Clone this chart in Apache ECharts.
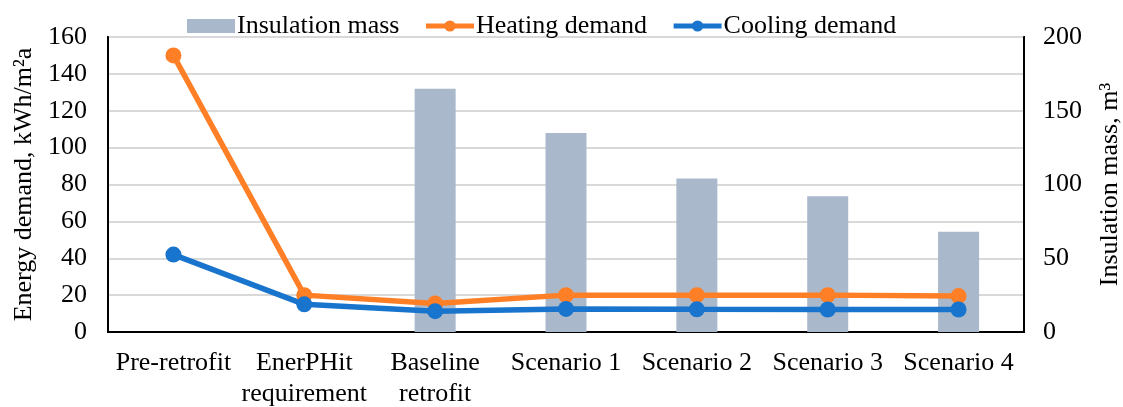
<!DOCTYPE html>
<html><head><meta charset="utf-8">
<script src="https://cdn.jsdelivr.net/npm/echarts@6/dist/echarts.min.js"></script>
<style>html,body{margin:0;padding:0;background:#fff}#c{width:1123px;height:407px}</style>
</head><body><div id="c"></div>
<script>
const categories = ['Pre-retrofit', 'EnerPHit\nrequirement', 'Baseline\nretrofit', 'Scenario 1', 'Scenario 2', 'Scenario 3', 'Scenario 4'];
const insulationMass = [null, null, 165, 135, 104, 92, 68];
const heatingDemand = [150, 20, 15.5, 20, 20, 20, 19.5];
const coolingDemand = [42, 15, 11.3, 12.5, 12.3, 12.2, 12.2];
const leftTicks = [0, 160, 20];
const rightTicks = [0, 200, 50];

const font = 'Liberation Serif';
const FS = 26;
const chart = echarts.init(document.getElementById('c'), null, {renderer: 'canvas'});
chart.setOption({
  animation: false,
  textStyle: {fontFamily: font, color: '#000'},
  grid: {left: 108, right: 99, top: 37, bottom: 75, show: true, borderColor: '#000', borderWidth: 2,
         backgroundColor: 'transparent', outerBoundsMode: 'none', containLabel: false},
  legend: {
    top: 8, left: 182, itemGap: 24, itemHeight: 14,
    textStyle: {fontFamily: font, fontSize: FS, color: '#000', padding: [0, 0, 0, -3]},
    data: [
      {name: 'Insulation mass', itemStyle: {color: '#A9B9CB'}, icon: 'rect', itemWidth: 52},
      {name: 'Heating demand', lineStyle: {width: 5}},
      {name: 'Cooling demand', lineStyle: {width: 5}}
    ],
    itemWidth: 48
  },
  xAxis: {
    type: 'category', data: categories, boundaryGap: true,
    axisLine: {lineStyle: {color: '#000', width: 2}},
    axisTick: {show: false},
    axisLabel: {fontFamily: font, fontSize: FS, color: '#000', margin: 16, lineHeight: 31, interval: 0}
  },
  yAxis: [
    {
      type: 'value', min: leftTicks[0], max: leftTicks[1], interval: leftTicks[2],
      name: 'Energy demand, kWh/m²a', nameLocation: 'middle', nameRotate: 90, nameGap: 67,
      nameTextStyle: {fontFamily: font, fontSize: FS, color: '#000'},
      axisLine: {show: true, lineStyle: {color: '#000', width: 2}},
      axisTick: {show: false},
      axisLabel: {fontFamily: font, fontSize: FS, color: '#000', margin: 21},
      splitLine: {lineStyle: {color: '#D9D9D9', width: 2}}
    },
    {
      type: 'value', min: rightTicks[0], max: rightTicks[1], interval: rightTicks[2],
      name: 'Insulation mass, m³', nameLocation: 'middle', nameRotate: 90, nameGap: 73,
      nameTextStyle: {fontFamily: font, fontSize: FS, color: '#000'},
      axisLine: {show: true, lineStyle: {color: '#000', width: 2}},
      axisTick: {show: false},
      axisLabel: {fontFamily: font, fontSize: FS, color: '#000', margin: 19},
      splitLine: {show: false}
    }
  ],
  series: [
    {name: 'Insulation mass', type: 'bar', yAxisIndex: 1, data: insulationMass, barWidth: 41,
     itemStyle: {color: '#A9B9CB'}},
    {name: 'Heating demand', type: 'line', yAxisIndex: 0, data: heatingDemand,
     symbol: 'circle', symbolSize: 16, lineStyle: {color: '#FF7F27', width: 5.5},
     itemStyle: {color: '#FF7F27'}},
    {name: 'Cooling demand', type: 'line', yAxisIndex: 0, data: coolingDemand,
     symbol: 'circle', symbolSize: 16, lineStyle: {color: '#1874CD', width: 5.5},
     itemStyle: {color: '#1874CD'}}
  ]
});
</script></body></html>
